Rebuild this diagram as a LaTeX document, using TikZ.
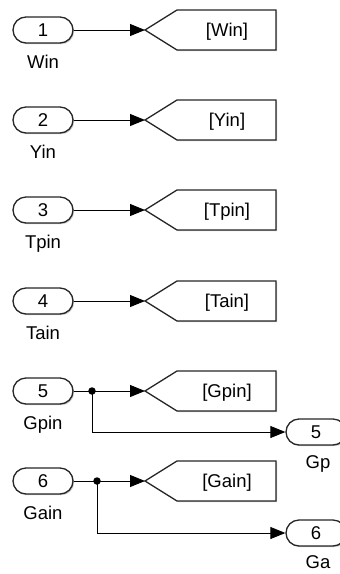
\documentclass[tikz,border=0pt]{standalone}
\usepackage{fontspec}
\setmainfont{Liberation Sans}
\usetikzlibrary{arrows.meta,shapes.misc,shadows}
\begin{document}
\begin{tikzpicture}[x=1pt,y=-1pt,
  font=\fontsize{18.5}{20}\selectfont,
  shd/.style={drop shadow={shadow xshift=1.2pt, shadow yshift=-1.2pt, fill=black, opacity=0.22}},
  port/.style={draw=black!85, line width=1.3pt, rounded rectangle, minimum width=60pt,
    minimum height=26pt, inner sep=0pt, fill=white, text height=13pt, text depth=0pt, shd},
  gotobox/.style={draw=black!85, line width=1.3pt, fill=white, line join=miter, shd},
  sig/.style={line width=0.9pt, -{Triangle[length=15pt,width=12pt]}},
  lbl/.style={inner sep=0pt, text height=13pt, text depth=0pt},
  dot/.style={circle, fill=black, inner sep=0pt, minimum size=7.5pt}]
\useasboundingbox (0,0) rectangle (340,574);
\clip (0,0) rectangle (340,574);
\foreach \n/\name/\y in {1/Win/30, 2/Yin/120, 3/Tpin/210, 4/Tain/301, 5/Gpin/391, 6/Gain/481}{
  \draw[gotobox] (145,\y) -- (177,\y-20) -- (276,\y-20) -- (276,\y+20) -- (177,\y+20) -- cycle;
  \coordinate (gt\n) at (145,\y);
  \node[lbl] (gl\n) at (227,\y) {[\name]};
  \node[port] (in\n) at (43,\y) {\n};
  \node[lbl] (il\n) at (43,\y+32) {\name};
  \draw[sig] (in\n.east) -- (gt\n);
}
% outports
\node[port] (out5) at (316,432) {5};
\node[lbl] (ol5) at (318,462) {Gp};
\node[port] (out6) at (316,533) {6};
\node[lbl] (ol6) at (318,562) {Ga};
% branches
\node[dot] (b5) at (92,391) {};
\node[dot] (b6) at (97,481) {};
\draw[sig] (b5.center) |- (out5.west);
\draw[sig] (b6.center) |- (out6.west);
\end{tikzpicture}
\end{document}
